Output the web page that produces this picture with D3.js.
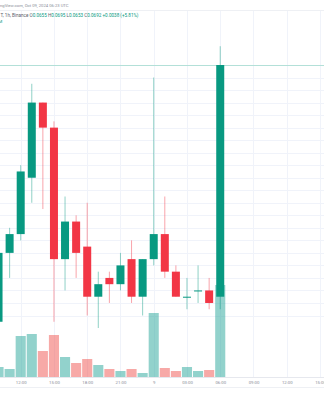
<!DOCTYPE html>
<html>
<head>
<meta charset="utf-8">
<script src="https://cdnjs.cloudflare.com/ajax/libs/d3/7.8.5/d3.min.js"></script>
<style>
html, body { margin: 0; padding: 0; background: #fff; }
svg { display: block; font-family: Roboto, "Liberation Sans", sans-serif; }
</style>
</head>
<body>
<svg id="chart" width="324" height="400"></svg>
<script>
// 1h bars, Oct 08 10:00 UTC .. Oct 09 06:00 UTC
var hours = ["2024-10-08T10:00Z", "2024-10-08T11:00Z", "2024-10-08T12:00Z", "2024-10-08T13:00Z",
	"2024-10-08T14:00Z", "2024-10-08T15:00Z", "2024-10-08T16:00Z", "2024-10-08T17:00Z",
	"2024-10-08T18:00Z", "2024-10-08T19:00Z", "2024-10-08T20:00Z", "2024-10-08T21:00Z",
	"2024-10-08T22:00Z", "2024-10-08T23:00Z", "2024-10-09T00:00Z", "2024-10-09T01:00Z",
	"2024-10-09T02:00Z", "2024-10-09T03:00Z", "2024-10-09T04:00Z", "2024-10-09T05:00Z",
	"2024-10-09T06:00Z"];
var open   = [0.0651, 0.0662, 0.0665, 0.0674, 0.0686, 0.0682, 0.0661, 0.0667, 0.0663, 0.0655, 0.0658,
	0.0657, 0.0661, 0.0655, 0.0661, 0.0665, 0.0659, 0.0655, 0.0656, 0.0656, 0.0655];
var high   = [0.0664, 0.0666, 0.0676, 0.0689, 0.0686, 0.0683, 0.0671, 0.0668, 0.0670, 0.0659, 0.0659,
	0.0662, 0.0664, 0.0661, 0.0690, 0.0671, 0.0660, 0.0658, 0.0660, 0.0658, 0.0695];
var low    = [0.0650, 0.0658, 0.0664, 0.0670, 0.0669, 0.0651, 0.0656, 0.0658, 0.0652, 0.0650, 0.0654,
	0.0656, 0.0654, 0.0652, 0.0660, 0.0658, 0.0655, 0.0653, 0.0654, 0.0653, 0.0653];
var close  = [0.0662, 0.0665, 0.0675, 0.0686, 0.0682, 0.0661, 0.0667, 0.0662, 0.0655, 0.0657, 0.0657,
	0.0660, 0.0655, 0.0661, 0.0665, 0.0659, 0.0655, 0.0655, 0.0656, 0.0654, 0.0692];
var volume = [220, 180, 840, 880, 540, 860, 420, 300, 380, 260, 180,
	140, 180, 100, 1300, 200, 140, 220, 140, 160, 1860];

var tickTimes  = ["2024-10-08T12:00Z", "2024-10-08T15:00Z", "2024-10-08T18:00Z", "2024-10-08T21:00Z",
	"2024-10-09T00:00Z", "2024-10-09T03:00Z", "2024-10-09T06:00Z", "2024-10-09T09:00Z",
	"2024-10-09T12:00Z", "2024-10-09T15:00Z"];
var tickLabels = ["12:00", "15:00", "18:00", "21:00", "9", "03:00", "06:00", "09:00", "12:00", "15:00"];

var up = '#089981', down = '#f23645',
	upVol = 'rgba(38,166,154,0.5)', downVol = 'rgba(239,83,80,0.5)';

var svg = d3.select('#chart');
var W = 324, paneTop = 10, paneBottom = 377;

var x = d3.scaleUtc()
	.domain([new Date(tickTimes[0]), new Date(tickTimes[tickTimes.length - 1])])
	.range([20.7, 320]);
var step = x(new Date(hours[1])) - x(new Date(hours[0]));
var y = d3.scaleLinear().domain([0.0692, 0.0652]).range([65, 315.5]);
var yv = d3.scaleLinear().domain([0, 1860]).range([paneBottom + 1, 285]);

// grid
var grid = svg.append('g');
grid.selectAll('line.h')
	.data(y.ticks(20).filter(function(p) { return y(p) > paneTop && y(p) < paneBottom; }))
	.enter().append('line')
	.attr('x1', 0).attr('x2', W)
	.attr('y1', function(p) { return Math.round(y(p)) + 0.5; })
	.attr('y2', function(p) { return Math.round(y(p)) + 0.5; })
	.attr('stroke', '#f0f3fa');
grid.selectAll('line.v')
	.data(tickTimes)
	.enter().append('line')
	.attr('x1', function(t) { return Math.round(x(new Date(t))) + 0.5; })
	.attr('x2', function(t) { return Math.round(x(new Date(t))) + 0.5; })
	.attr('y1', paneTop).attr('y2', paneBottom)
	.attr('stroke', '#f0f3fa');

svg.append('line').attr('x1', 0).attr('x2', W).attr('y1', paneTop + 0.5).attr('y2', paneTop + 0.5)
	.attr('stroke', '#eef0f4');

// volume
svg.append('g').selectAll('rect')
	.data(hours)
	.enter().append('rect')
	.attr('x', function(h) { return x(new Date(h)) - step / 2 + 0.5; })
	.attr('width', step - 1)
	.attr('y', function(h, i) { return yv(volume[i]); })
	.attr('height', function(h, i) { return yv(0) - yv(volume[i]); })
	.attr('fill', function(h, i) { return close[i] >= open[i] ? upVol : downVol; });

// last price line
svg.append('line').attr('x1', 0).attr('x2', W)
	.attr('y1', Math.round(y(close[close.length - 1])) + 0.5)
	.attr('y2', Math.round(y(close[close.length - 1])) + 0.5)
	.attr('stroke', '#b3e0d8');

// candles
var candles = svg.append('g').selectAll('g')
	.data(hours)
	.enter().append('g');
candles.append('line')
	.attr('x1', function(h) { return x(new Date(h)); })
	.attr('x2', function(h) { return x(new Date(h)); })
	.attr('y1', function(h, i) { return y(high[i]); })
	.attr('y2', function(h, i) { return y(low[i]); })
	.attr('stroke', function(h, i) { return close[i] >= open[i] ? up : down; })
	.attr('stroke-opacity', 0.45)
	.attr('stroke-width', 1);
candles.append('rect')
	.attr('x', function(h) { return x(new Date(h)) - 4; })
	.attr('width', 8)
	.attr('y', function(h, i) { return y(Math.max(open[i], close[i])); })
	.attr('height', function(h, i) { return Math.max(1, Math.abs(y(open[i]) - y(close[i]))); })
	.attr('fill', function(h, i) { return close[i] >= open[i] ? up : down; });

// time axis
svg.append('line').attr('x1', 0).attr('x2', W).attr('y1', paneBottom + 0.5).attr('y2', paneBottom + 0.5)
	.attr('stroke', '#e6e8ee');
svg.append('line').attr('x1', 0).attr('x2', W).attr('y1', 387.5).attr('y2', 387.5)
	.attr('stroke', '#eef0f4');
var axis = d3.axisBottom(x)
	.tickValues(tickTimes.map(function(t) { return new Date(t); }))
	.tickFormat(function(d, i) { return tickLabels[i]; })
	.tickSize(0).tickPadding(0);
var ax = svg.append('g').attr('transform', 'translate(0,' + 380.5 + ')').call(axis);
ax.select('.domain').remove();
ax.selectAll('text').attr('fill', '#8a8d97').style('font-size', '4.3px')
	.style('font-family', 'Roboto, "Liberation Sans", sans-serif');

// legend text
svg.append('text').attr('x', 0).attr('y', 7)
	.attr('fill', '#8a8d97').style('font-size', '4.2px')
	.text('ngView.com, Oct 09, 2024 06:23 UTC');
var leg = svg.append('text').attr('x', 0.5).attr('y', 17).style('font-size', '4.6px');
leg.append('tspan').attr('fill', '#5d606b').text('T, 1h, Binance ');
var vals = [['O', '0.0655'], ['H', '0.0695'], ['L', '0.0653'], ['C', '0.0692']];
vals.forEach(function(v) {
	leg.append('tspan').attr('fill', '#5d606b').text(' ' + v[0]);
	leg.append('tspan').attr('fill', up).text(v[1]);
});
leg.append('tspan').attr('fill', up).text('  +0.0038 (+5.81%)');
svg.append('text').attr('x', -1.5).attr('y', 23).attr('fill', up).style('font-size', '4.3px').text('M');
</script>
</body>
</html>
